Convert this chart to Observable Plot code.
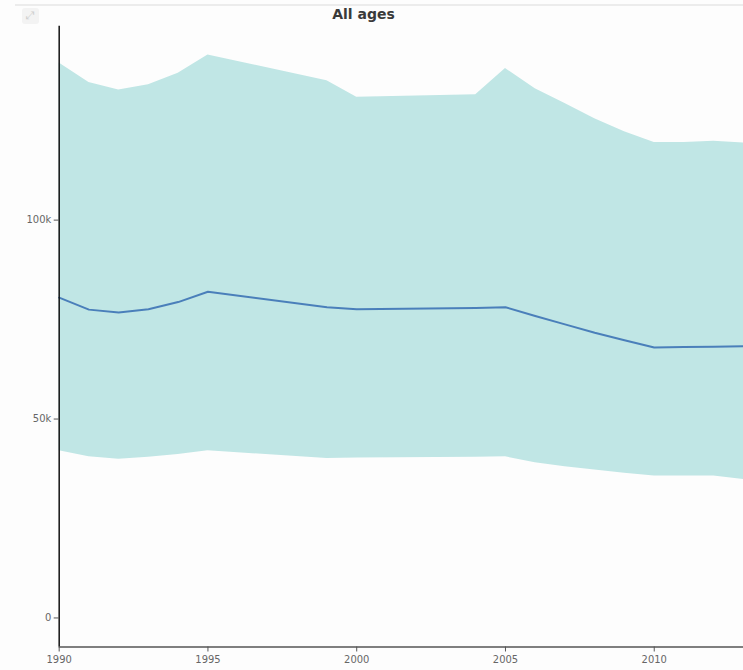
<!DOCTYPE html>
<html>
<head>
<meta charset="utf-8">
<script src="https://cdn.jsdelivr.net/npm/d3@7"></script>
<script src="https://cdn.jsdelivr.net/npm/@observablehq/plot@0.6"></script>
<style>
  html, body { margin: 0; padding: 0; background: #fdfdfd; overflow: hidden; width: 743px; height: 670px; }
  #wrap { position: relative; width: 743px; height: 670px; font-family: "DejaVu Sans", Verdana, sans-serif; }
  #topline { position: absolute; left: 15px; top: 4px; width: 728px; height: 2px; background: #ececec; }
  #icon { position: absolute; left: 22px; top: 8px; width: 17px; height: 16px; border-radius: 3px; background: #f3f3f3; color: #cfcfcf; font-size: 11px; line-height: 16px; text-align: center; }
  #title { position: absolute; left: 0; top: 6px; width: 727px; text-align: center; font-weight: bold; font-size: 14px; color: #3a3a3a; }
  #chart { position: absolute; left: 0; top: 0; }
</style>
</head>
<body>
<div id="wrap">
  <div id="topline"></div>
  <div id="icon">⤢</div>
  <div id="title">All ages</div>
  <div id="chart"></div>
</div>
<script>
const years  = [1990, 1991, 1992, 1993, 1994, 1995, 1999, 2000, 2004, 2005, 2006, 2007, 2008, 2009, 2010, 2011, 2012, 2013];
const upper  = [139.5, 134.6, 132.7, 134.0, 136.9, 141.5, 135.0, 130.9, 131.5, 138.1, 133.0, 129.3, 125.5, 122.2, 119.5, 119.5, 119.8, 119.4];
const median = [80.5, 77.5, 76.8, 77.6, 79.4, 82.0, 78.1, 77.6, 77.9, 78.1, 75.9, 73.8, 71.7, 69.8, 68.0, 68.1, 68.2, 68.3];
const lower  = [42.0, 40.5, 39.9, 40.4, 41.1, 42.0, 40.1, 40.2, 40.4, 40.5, 39.0, 38.0, 37.2, 36.4, 35.7, 35.7, 35.7, 34.8];
const xTicks = [1990, 1995, 2000, 2005, 2010];
const yTicks = [0, 50000, 100000];
const yTickLabels = ["0", "50k", "100k"];
const xDomain = [1990, 2013];
const yDomain = [-7300, 148700];

const data = years.map((y, i) => ({year: y, lo: lower[i] * 1000, hi: upper[i] * 1000, mid: median[i] * 1000}));

const chart = Plot.plot({
  width: 747,
  height: 670,
  marginLeft: 59,
  marginRight: 0,
  marginTop: 26,
  marginBottom: 20,
  style: {background: "transparent", fontFamily: "DejaVu Sans, Verdana, sans-serif", fontSize: "10px", color: "#666"},
  x: {domain: xDomain, ticks: xTicks, tickFormat: d => String(d), tickSize: 5, label: null},
  y: {domain: yDomain, ticks: yTicks, tickFormat: d => yTickLabels[yTicks.indexOf(d)], tickSize: 5, label: null},
  marks: [
    Plot.areaY(data, {x: "year", y1: "lo", y2: "hi", fill: "#c0e6e5", fillOpacity: 1}),
    Plot.lineY(data, {x: "year", y: "mid", stroke: "#4a7fba", strokeWidth: 2}),
    Plot.ruleY([yDomain[0]], {stroke: "#555", strokeWidth: 1.5}),
    Plot.ruleX([xDomain[0]], {stroke: "#111", strokeWidth: 1.5}),
    Plot.axisX({ticks: xTicks, tickFormat: d => String(d), tickSize: 5, tickPadding: 4, stroke: "#555", fill: "#666"}),
    Plot.axisY({ticks: yTicks, tickFormat: d => yTickLabels[yTicks.indexOf(d)], tickSize: 5, tickPadding: 3, stroke: "#555", fill: "#666"})
  ]
});
document.getElementById("chart").appendChild(chart);
</script>
</body>
</html>
